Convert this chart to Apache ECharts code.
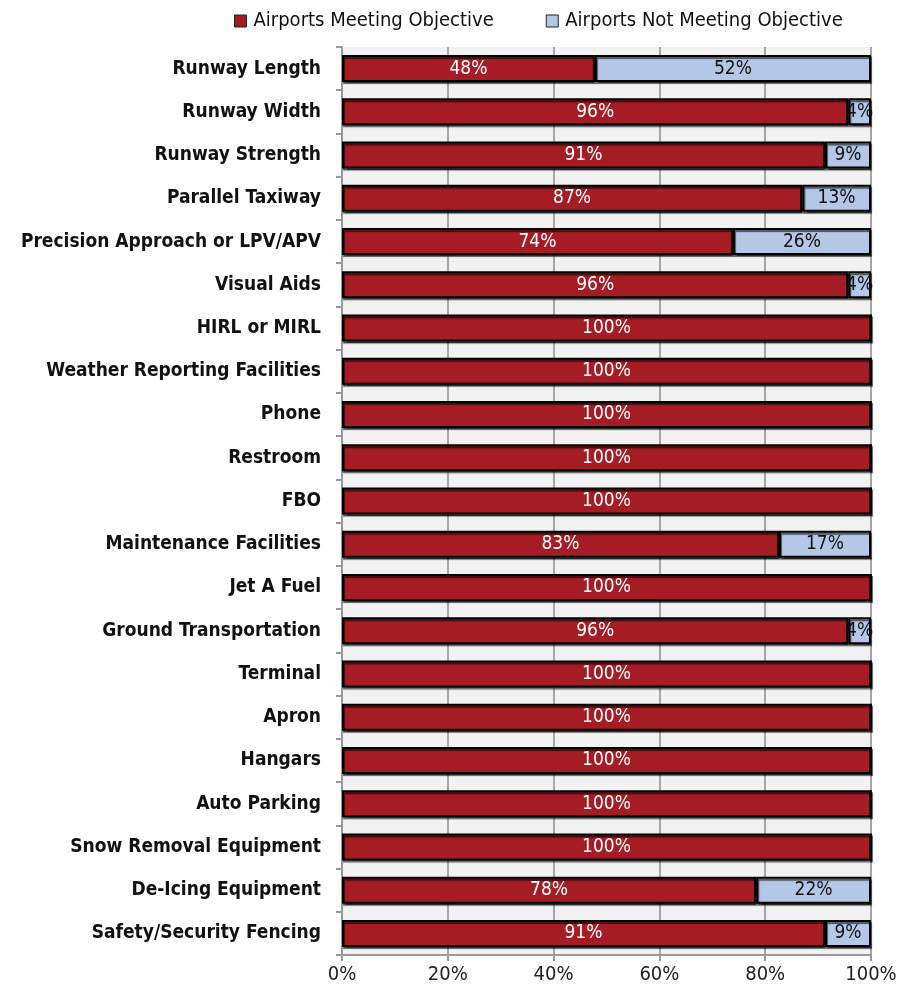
<!DOCTYPE html>
<html><head><meta charset="utf-8">
<script src="https://cdn.jsdelivr.net/npm/echarts@6/dist/echarts.min.js"></script>
<style>html,body{margin:0;padding:0;background:#fff}#c{width:913px;height:994px}</style>
</head><body><div id="c"></div>
<script>
const categories = ["Runway Length","Runway Width","Runway Strength","Parallel Taxiway","Precision Approach or LPV/APV","Visual Aids","HIRL or MIRL","Weather Reporting Facilities","Phone","Restroom","FBO","Maintenance Facilities","Jet A Fuel","Ground Transportation","Terminal","Apron","Hangars","Auto Parking","Snow Removal Equipment","De-Icing Equipment","Safety/Security Fencing"];
const meeting = [47.8,95.7,91.3,87.0,73.9,95.7,100,100,100,100,100,82.6,100,95.7,100,100,100,100,100,78.3,91.3];
const notMeeting = [52.2,4.3,8.7,13.0,26.1,4.3,0,0,0,0,0,17.4,0,4.3,0,0,0,0,0,21.7,8.7];
const xTicks = [0,20,40,60,80,100];

const chart = echarts.init(document.getElementById('c'));
const narrow = "'Liberation Sans Narrow','Arial Narrow','DejaVu Sans Condensed',sans-serif";
const lblFmt = p => p.value > 0 ? Math.round(p.value) + '%' : '';
chart.setOption({
  animation:false,
  legend:{top:6,left:229,itemWidth:12,itemHeight:12,itemGap:52,icon:'rect',
    textStyle:{fontFamily:narrow,fontSize:20,color:'#111',padding:[0,0,0,2]},
    data:[{name:'Airports Meeting Objective',itemStyle:{borderColor:'#222',borderWidth:1}},
          {name:'Airports Not Meeting Objective',itemStyle:{borderColor:'#222',borderWidth:1}}]},
  grid:{left:342,right:42,top:47,bottom:39,backgroundColor:'#f2f2f2',show:true,borderWidth:0},
  xAxis:{type:'value',min:0,max:100,interval:20,
    axisLabel:{formatter:v=>v+'%',fontFamily:narrow,fontSize:20,color:'#222',margin:10},
    axisLine:{show:true,lineStyle:{color:'#999',width:2}},
    axisTick:{show:true,length:6,lineStyle:{color:'#999',width:2}},
    splitLine:{show:true,lineStyle:{color:'#a6a6a6',width:2}}},
  yAxis:{type:'category',inverse:true,data:categories,
    axisLabel:{fontFamily:narrow,fontWeight:'bold',fontSize:19,color:'#111',margin:21},
    axisLine:{show:true,lineStyle:{color:'#999',width:2}},
    axisTick:{show:true,length:6,lineStyle:{color:'#999',width:2}}},
  series:[
    {name:'Airports Meeting Objective',type:'bar',stack:'t',data:meeting,barWidth:27,
     itemStyle:{color:'#a51c24',borderColor:'#000',borderWidth:2,shadowColor:'rgba(0,0,0,0.6)',shadowOffsetX:1,shadowOffsetY:2,shadowBlur:1},
     label:{show:true,position:'inside',formatter:lblFmt,color:'#fff',fontFamily:narrow,fontSize:19}},
    {name:'Airports Not Meeting Objective',type:'bar',stack:'t',data:notMeeting,barWidth:27,
     itemStyle:{color:'#b4c7e7',borderColor:'#000',borderWidth:2,shadowColor:'rgba(0,0,0,0.6)',shadowOffsetX:1,shadowOffsetY:2,shadowBlur:1},
     label:{show:true,position:'inside',formatter:lblFmt,color:'#111',fontFamily:narrow,fontSize:19}}
  ]
});
</script></body></html>
